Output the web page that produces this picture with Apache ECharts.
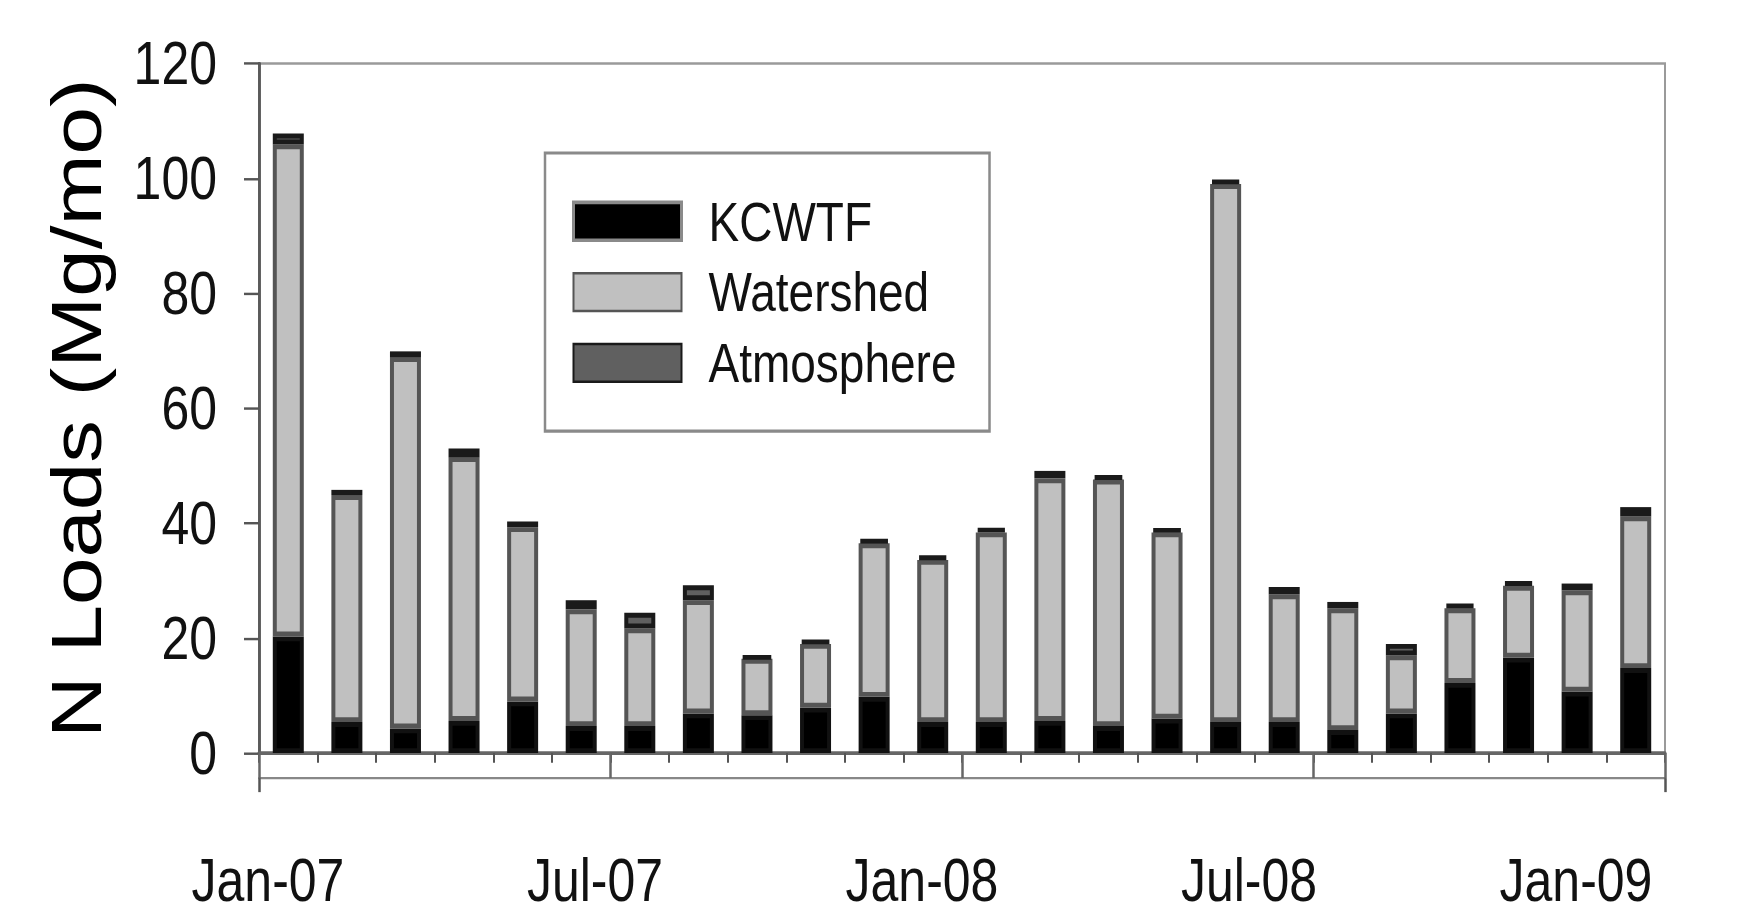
<!DOCTYPE html>
<html>
<head>
<meta charset="utf-8">
<script src="https://cdn.jsdelivr.net/npm/echarts@6/dist/echarts.min.js"></script>
<style>
  html { margin: 0; padding: 0; background: #fff; }
  body { margin: 0; padding: 0; background: #fff; width: 1753px; height: 922px; }
  /* the chart is laid out on a shorter canvas and stretched vertically to the page height */
  #chart { width: 1753px; height: 756px; transform: scaleY(1.2196); transform-origin: 0 0; }
</style>
</head>
<body>
<div id="chart"></div>
<script>
// Monthly nitrogen loads, Jan 2007 - Dec 2008 (Mg/mo)
const months = [
  'Jan-07', 'Feb-07', 'Mar-07', 'Apr-07', 'May-07', 'Jun-07',
  'Jul-07', 'Aug-07', 'Sep-07', 'Oct-07', 'Nov-07', 'Dec-07',
  'Jan-08', 'Feb-08', 'Mar-08', 'Apr-08', 'May-08', 'Jun-08',
  'Jul-08', 'Aug-08', 'Sep-08', 'Oct-08', 'Nov-08', 'Dec-08'
];
const kcwtf = [20.3, 5.4, 4.3, 5.6, 9.0, 4.7, 4.7, 6.9, 6.6, 7.9, 9.8, 5.4,
               5.4, 5.6, 4.7, 6.0, 5.4, 5.4, 4.0, 6.9, 12.2, 16.6, 10.7, 14.8];
const watershed = [85.6, 39.5, 64.6, 45.9, 30.3, 20.3, 17.0, 19.7, 9.8, 11.1, 26.7, 28.2,
                   33.0, 42.2, 42.9, 32.4, 93.6, 22.2, 21.2, 10.1, 13.0, 12.5, 17.6, 26.4];
const atmosphere = [1.9, 0.9, 1.0, 1.5, 1.0, 1.6, 2.7, 2.6, 0.5, 0.7, 0.7, 0.8,
                    0.8, 1.3, 0.7, 0.7, 0.8, 1.3, 1.1, 2.0, 0.8, 0.8, 1.2, 1.6];
const dateTickLabels = ['Jan-07', 'Jul-07', 'Jan-08', 'Jul-08', 'Jan-09'];

const FONT = "'Liberation Sans', Arial, sans-serif";
const chart = echarts.init(document.getElementById('chart'), null, { renderer: 'svg' });

const plotTop = 52, plotBottom = 138.5;

chart.setOption({
  animation: false,
  backgroundColor: '#fff',
  textStyle: { fontFamily: FONT },
  grid: [
    { left: 259, right: 88, top: plotTop, bottom: plotBottom, show: true,
      borderColor: '#9a9a9a', borderWidth: 2, backgroundColor: 'transparent',
      outerBoundsMode: 'none' },
    // label track for the half-year date labels
    { left: 268, right: 177, top: plotTop, bottom: plotBottom, outerBoundsMode: 'none' }
  ],
  legend: {
    orient: 'vertical',
    left: 545, top: 125.5,
    padding: [33, 33, 33, 27],
    itemWidth: 108, itemHeight: 31, itemGap: 12,
    icon: 'rect',
    borderColor: '#8a8a8a', borderWidth: 2.5, backgroundColor: '#fff',
    selectedMode: false,
    textStyle: { fontSize: 46, color: '#111', fontFamily: FONT, padding: [0, 0, 0, 22] },
    data: [
      { name: 'KCWTF', itemStyle: { borderColor: '#8a8a8a', borderWidth: 3 } },
      'Watershed',
      'Atmosphere'
    ]
  },
  xAxis: [
    { // monthly categories
      type: 'category', gridIndex: 0, data: months, boundaryGap: true,
      axisLine: { show: true, lineStyle: { color: '#666', width: 3 } },
      axisTick: { show: true, inside: false, length: 8, lineStyle: { color: '#555', width: 2 } },
      axisLabel: { show: false },
      splitLine: { show: false }
    },
    { // half-year divisions below the month axis
      type: 'value', gridIndex: 0, min: 0, max: 24, interval: 6,
      position: 'bottom', offset: 20.5,
      axisLine: { show: true, onZero: false, lineStyle: { color: '#888', width: 2 } },
      axisTick: { show: true, inside: true, length: 20.5, lineStyle: { color: '#666', width: 2.5 } },
      axisLabel: { show: false },
      splitLine: { show: false }
    },
    { // end marks of the date scale
      type: 'value', gridIndex: 0, min: 0, max: 24, interval: 24,
      position: 'bottom', offset: 20.5,
      axisLine: { show: false, onZero: false },
      axisTick: { show: true, length: 11.5, lineStyle: { color: '#555', width: 2.5 } },
      axisLabel: { show: false },
      splitLine: { show: false }
    },
    { // date labels
      type: 'value', gridIndex: 1, min: 0, max: 24, interval: 6,
      position: 'bottom',
      axisLine: { show: false, onZero: false },
      axisTick: { show: false },
      splitLine: { show: false },
      axisLabel: {
        show: true, margin: 79, fontSize: 50, color: '#111', fontFamily: FONT,
        showMinLabel: true, showMaxLabel: true,
        formatter: v => dateTickLabels[Math.round(v / 6)] || ''
      }
    }
  ],
  yAxis: [
    {
      type: 'value', gridIndex: 0, min: 0, max: 120, interval: 20,
      name: 'N Loads (Mg/mo)', nameLocation: 'middle', nameGap: 147,
      nameTextStyle: { fontSize: 70, color: '#000', fontFamily: FONT },
      axisLine: { show: true, lineStyle: { color: '#555', width: 2.5 } },
      axisTick: { show: true, length: 15, lineStyle: { color: '#555', width: 2 } },
      axisLabel: { fontSize: 50, color: '#111', margin: 42, fontFamily: FONT },
      splitLine: { show: false }
    },
    { // right frame edge
      type: 'value', gridIndex: 0, min: 0, max: 120, position: 'right',
      axisLine: { show: true, lineStyle: { color: '#5a5a5a', width: 2.5 } },
      axisTick: { show: false }, axisLabel: { show: false }, splitLine: { show: false }
    },
    { type: 'value', gridIndex: 1, min: 0, max: 1, show: false }
  ],
  series: [
    { name: 'KCWTF', type: 'bar', stack: 'load', data: kcwtf, barWidth: 31,
      itemStyle: { color: '#000', borderColor: '#111', borderWidth: 4 } },
    { name: 'Watershed', type: 'bar', stack: 'load', data: watershed, barWidth: 31,
      itemStyle: { color: '#c0c0c0', borderColor: '#555', borderWidth: 4 } },
    { name: 'Atmosphere', type: 'bar', stack: 'load', data: atmosphere, barWidth: 31,
      itemStyle: { color: '#606060', borderColor: '#1a1a1a', borderWidth: 4 } }
  ]
});
</script>
</body>
</html>
